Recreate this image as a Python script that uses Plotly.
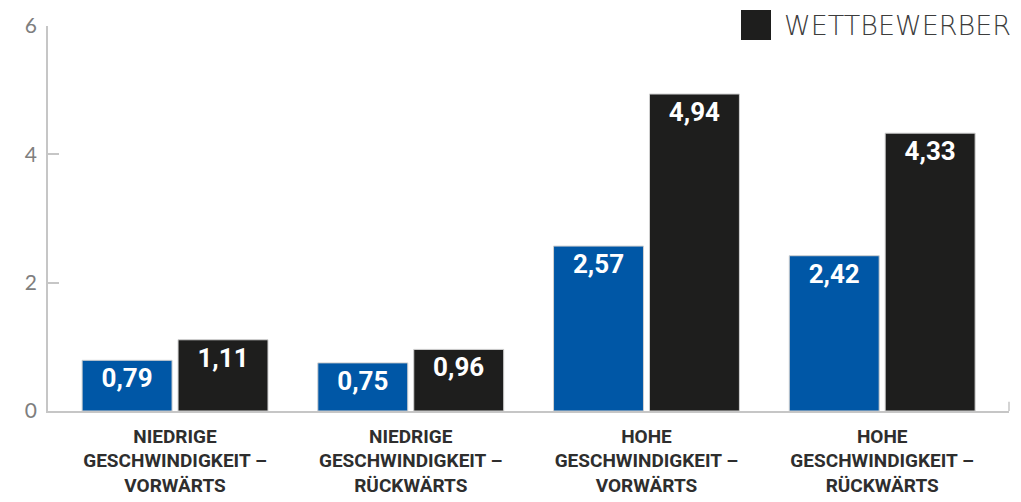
import plotly.graph_objects as go

categories = [
    "NIEDRIGE<br>GESCHWINDIGKEIT –<br>VORWÄRTS",
    "NIEDRIGE<br>GESCHWINDIGKEIT –<br>RÜCKWÄRTS",
    "HOHE<br>GESCHWINDIGKEIT –<br>VORWÄRTS",
    "HOHE<br>GESCHWINDIGKEIT –<br>RÜCKWÄRTS",
]
own_values = [0.79, 0.75, 2.57, 2.42]
competitor_values = [1.11, 0.96, 4.94, 4.33]
competitor_name = "WETTBEWERBER"
y_ticks = [0, 2, 4, 6]

BLUE = "#0057a6"
BLACK = "#1e1e1d"
AXIS = "#c6c6c6"

# The page body adds an 8 px margin, so the figure is sized to fit the window.
W, H = 1013, 494
L, T, R, B = 40, 18, 12, 91
PW, PH = W - L - R, H - T - B


def px(x):
    return (x - L) / PW


def py(y):
    return (H - B - y) / PH


value_font = dict(family="Roboto, Liberation Sans, sans-serif", size=26, color="white", weight="bold")

fig = go.Figure()
fig.add_trace(go.Bar(
    x=categories, y=own_values, name="",
    marker=dict(color=BLUE, line=dict(color="#d0d0d0", width=1)),
    texttemplate="%{y:.2f}", textposition="inside", insidetextanchor="end",
    textangle=0, textfont=value_font, showlegend=False,
))
fig.add_trace(go.Bar(
    x=categories, y=competitor_values, name=competitor_name,
    marker=dict(color=BLACK, line=dict(color="#d0d0d0", width=1)),
    texttemplate="%{y:.2f}", textposition="inside", insidetextanchor="end",
    textangle=0, textfont=value_font, showlegend=False,
))

fig.update_layout(
    width=W, height=H,
    margin=dict(l=L, r=R, t=T, b=B, autoexpand=False),
    paper_bgcolor="white", plot_bgcolor="white",
    barmode="group", bargap=0.186, bargroupgap=0.0625,
    separators=",.",
    xaxis=dict(
        range=[-0.539, 3.538], showgrid=False, showline=True, linecolor=AXIS, linewidth=1.5,
        ticks="", ticklabelstandoff=7,
        tickfont=dict(family="Roboto, sans-serif", size=19, color="#2e2e2e", weight="bold"),
        fixedrange=True,
    ),
    yaxis=dict(
        range=[0, 6], tickvals=y_ticks, showgrid=False, zeroline=False,
        showline=True, linecolor=AXIS, linewidth=1.5,
        ticks="inside", ticklen=11, tickwidth=1.5, tickcolor=AXIS,
        ticklabelstandoff=5,
        tickfont=dict(family="Lato, Open Sans, sans-serif", size=21, color="#7e7e7e"),
    ),
    shapes=[
        # right-end tick of the x axis
        dict(type="line", xref="paper", yref="paper", x0=1, x1=1, y0=0, y1=0.024,
             line=dict(color=AXIS, width=1.5)),
        # legend swatch
        dict(type="rect", xref="paper", yref="paper",
             x0=px(733), x1=px(763), y0=py(32), y1=py(2),
             fillcolor=BLACK, line=dict(width=0)),
    ],
    annotations=[
        dict(text=competitor_name, xref="paper", yref="paper",
             x=px(774), y=py(17), xanchor="left", yanchor="middle",
             showarrow=False,
             font=dict(family="DejaVu Sans, sans-serif", size=27, color="#3c3c3c", weight=200)),
    ],
)

fig.write_html("out.html")
